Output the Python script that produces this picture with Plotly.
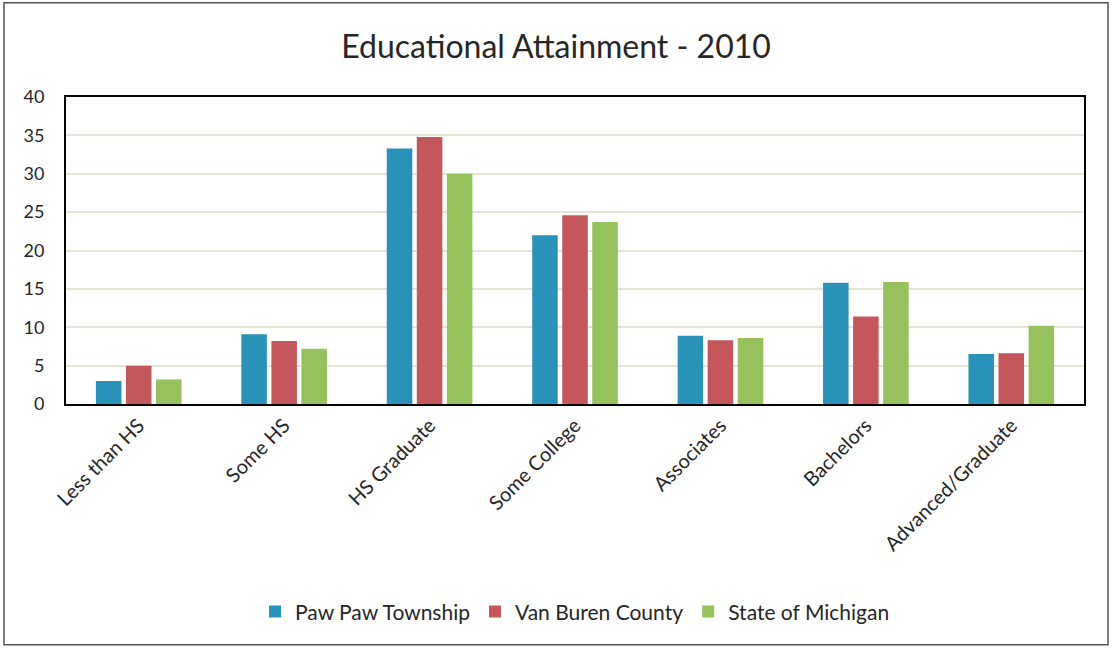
import plotly.graph_objects as go

categories = ["Less than HS", "Some HS", "HS Graduate", "Some College",
              "Associates", "Bachelors", "Advanced/Graduate"]
paw_paw = [3.0, 9.1, 33.3, 22.0, 8.9, 15.8, 6.5]
van_buren = [5.0, 8.2, 34.8, 24.6, 8.3, 11.4, 6.6]
michigan = [3.2, 7.2, 30.0, 23.7, 8.6, 15.9, 10.2]
y_ticks = [0, 5, 10, 15, 20, 25, 30, 35, 40]

FONT = "Lato"
TXT = "#262626"

fig = go.Figure()
fig.add_bar(x=categories, y=paw_paw, name="Paw Paw Township", marker_color="#2a91b8")
fig.add_bar(x=categories, y=van_buren, name="Van Buren County", marker_color="#c4575b")
fig.add_bar(x=categories, y=michigan, name="State of Michigan", marker_color="#96c15c")

fig.update_traces(marker_line_width=0)

fig.update_layout(
    width=1112, height=650,
    margin=dict(l=66, r=28, t=97, b=246),
    paper_bgcolor="white", plot_bgcolor="white",
    barmode="group", bargap=0.38, bargroupgap=0.15,
    font=dict(family=FONT, color=TXT, size=18),
    title=dict(text="Educational Attainment - 2010", x=0.5, xanchor="center",
               y=0.928, yanchor="middle", font=dict(family=FONT, size=32, color=TXT)),
    legend=dict(orientation="h", x=0.5, xanchor="center", y=-0.677, yanchor="middle",
                font=dict(family=FONT, size=21, color=TXT), itemwidth=30,
                traceorder="normal"),
    showlegend=True,
)

fig.update_xaxes(tickangle=-45, showline=True, linecolor="black", linewidth=2,
                 mirror=True, ticks="", tickfont=dict(size=20, family=FONT, color=TXT))
fig.update_yaxes(range=[0, 40], tickvals=y_ticks, showline=True, linecolor="black",
                 linewidth=2, mirror=True, showgrid=True, gridcolor="#e2e6d2",
                 gridwidth=2, zeroline=False, ticks="", ticklen=0,
                 ticklabelstandoff=16,
                 tickfont=dict(size=18, family=FONT, color=TXT))

# outer chart border
fig.add_shape(type="rect", xref="paper", yref="paper",
              x0=-0.0609, x1=1.0236, y0=-0.784, y1=1.307,
              line=dict(color="#555555", width=1.5), fillcolor="rgba(0,0,0,0)", layer="below")

fig.write_html("out.html")
